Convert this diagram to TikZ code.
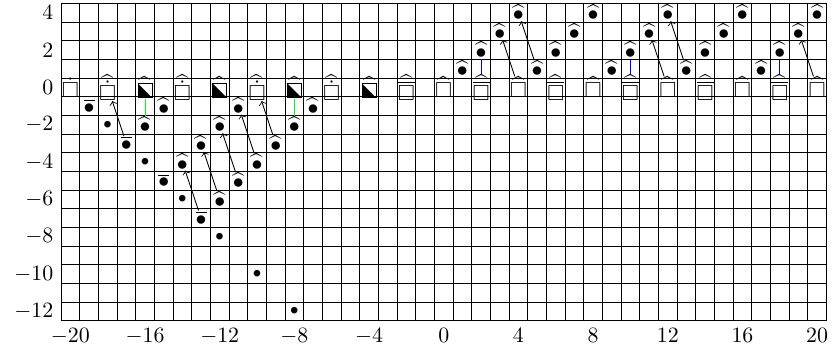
\documentclass[tikz,border=0pt]{standalone}
\usepackage{amsmath,amssymb}
\usepackage{tikz}
\newcommand{\halfsq}{\tikz[baseline=0pt]{\useasboundingbox (0,0) rectangle (7.78pt,6.89pt);
  \fill (0.7pt,0.2pt) -- (0.7pt,6.6pt) -- (7.1pt,0.2pt) -- cycle;
  \draw[line width=0.45pt] (0.7pt,0.2pt) rectangle (7.1pt,6.6pt);}}

\begin{document}
\begin{tikzpicture}[x=0.3cm, y=0.3cm,
  mk/.style={inner sep=0pt},
  link/.style={->, line width=0.4pt}]
  \useasboundingbox (-23.77,-14.12) rectangle (20.85,4.68);

  % Grid
  \foreach \x in {-20,...,21} \draw (\x-0.5,-12.5) -- (\x-0.5,4.5);
  \foreach \y in {-12,...,5} \draw (-20.5,\y-0.5) -- (20.5,\y-0.5);

  % Tick labels
  \foreach \x in {-20,-16,...,20} \node[below] (xt\x) at (\x,-12.5) {$\x$};
  \foreach \y in {-12,-10,...,4} \node[left] (yt\y) at (-20.5,\y) {$\y$};

  % Squares on the zero row
  \node[mk] (sq-20) at (-20,0) {$\dot{\square}$};
  \foreach \x in {-18,-14,-10,-6} \node[mk] (sq\x) at (\x,0) {$\widehat{\dot{\square}}$};
  \foreach \x in {-16,-12,-8,-4} \node[mk] (sq\x) at (\x,0) {$\widehat{\halfsq}$};
  \foreach \x in {-2,2,...,18} \node[mk] (sq\x) at (\x,0) {$\widehat{\overline{\square}}$};
  \foreach \x in {0,4,...,20} \node[mk] (sq\x) at (\x,0) {$\widehat{\square}$};

  % Bullets below the zero row
  \foreach \x/\y in {-19/-1,-17/-3,-15/-5,-13/-7} \node[mk] (b\x y\y) at (\x,\y) {$\overline{\bullet}$};
  \foreach \x/\y in {-18/-2,-16/-4,-14/-6,-12/-8,-10/-10,-8/-12} \node[mk] (s\x y\y) at (\x,\y) {${\scriptstyle\bullet}$};
  \foreach \x/\y in {-16/-2,-15/-1,-14/-4,-13/-3,-12/-6,-12/-2,-11/-5,-11/-1,-10/-4,-9/-3,-8/-2,-7/-1}
    \node[mk] (b\x y\y) at (\x,\y) {$\widehat{\bullet}$};

  % Bullets above the zero row
  \foreach \x in {1,...,20} {
    \pgfmathtruncatemacro{\y}{mod(\x-1,4)+1}
    \node[mk] (b\x y\y) at (\x,\y) {$\widehat{\bullet}$};
  }

  % Arrows
  \foreach \a/\b in {b-17y-3/sq-18,b-13y-7/b-14y-4,b-12y-6/b-13y-3,b-11y-5/b-12y-2,b-10y-4/b-11y-1,b-9y-3/sq-10,
    sq4/b3y3,b5y1/b4y4,sq12/b11y3,b13y1/b12y4,sq20/b19y3}
    \draw[link] (\a) -- (\b);

  % Vertical links
  \draw[green] (sq-16) -- (b-16y-2);
  \draw[green] (sq-8) -- (b-8y-2);
  \draw[blue] (b2y2) -- (sq2);
  \draw[blue] (b10y2) -- (sq10);
  \draw[blue] (b18y2) -- (sq18);
\end{tikzpicture}
\end{document}
